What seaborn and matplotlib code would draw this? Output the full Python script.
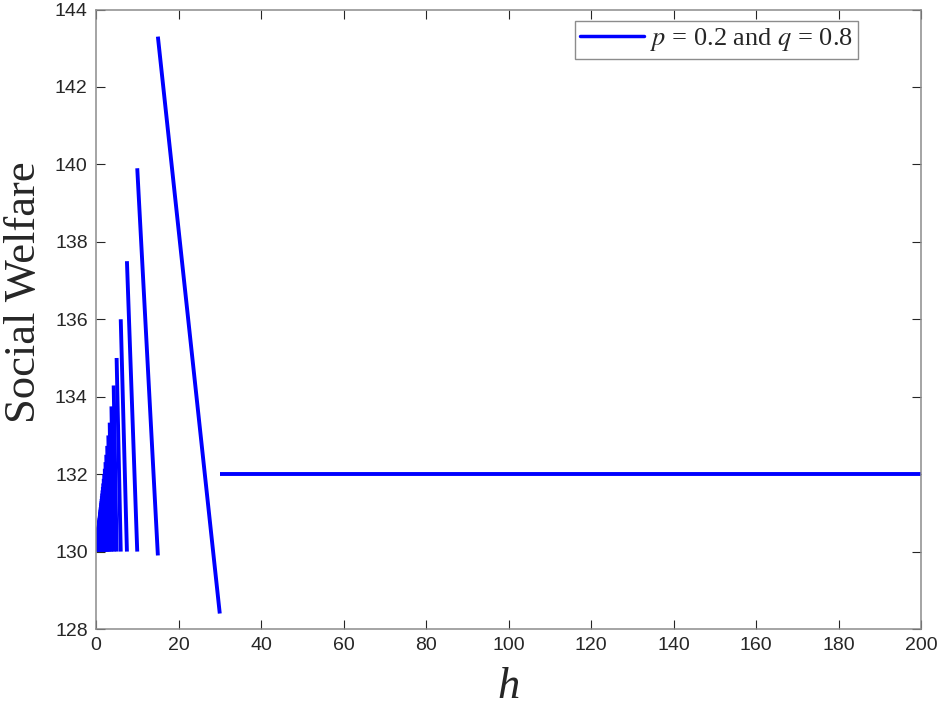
import numpy as np
import pandas as pd
import matplotlib
matplotlib.use("Agg")
import matplotlib.pyplot as plt
import seaborn as sns
from matplotlib.lines import Line2D

# segment ends (h), one segment per jump
seg_left = [30, 15, 10, 7.5, 6, 5, 4.29, 3.75, 3.33, 3.0, 2.73, 2.5, 2.31, 2.14, 2.0,
            1.88, 1.76, 1.67, 1.58, 1.5, 1.43, 1.36, 1.30, 1.25, 1.2, 1.15, 1.11,
            1.07, 1.03, 1.0, 0.97, 0.94, 0.91, 0.88, 0.86, 0.83, 0.81, 0.79, 0.77,
            0.75, 0.73, 0.71, 0.70, 0.68, 0.67, 0.65, 0.64, 0.63, 0.61, 0.6]
seg_right = [200, 30, 15, 10, 7.5, 6, 5, 4.29, 3.75, 3.33, 3.0, 2.73, 2.5, 2.31, 2.14,
             2.0, 1.88, 1.76, 1.67, 1.58, 1.5, 1.43, 1.36, 1.30, 1.25, 1.2, 1.15,
             1.11, 1.07, 1.03, 1.0, 0.97, 0.94, 0.91, 0.88, 0.86, 0.83, 0.81, 0.79,
             0.77, 0.75, 0.73, 0.71, 0.70, 0.68, 0.67, 0.65, 0.64, 0.63, 0.61]
# welfare at the left end of each segment
seg_top = [132, 143.3, 139.9, 137.5, 136.0, 135.0, 134.29, 133.75, 133.33, 133.0, 132.73,
           132.5, 132.31, 132.14, 132.0, 131.88, 131.76, 131.67, 131.58, 131.5, 131.43,
           131.36, 131.30, 131.25, 131.2, 131.15, 131.11, 131.07, 131.03, 131.0, 130.97,
           130.94, 130.91, 130.88, 130.86, 130.83, 130.81, 130.79, 130.77, 130.75,
           130.73, 130.71, 130.70, 130.68, 130.67, 130.65, 130.64, 130.63, 130.61, 130.6]
# welfare at the right end of each segment
seg_bottom = [132, 128.4, 129.9] + [130.0] * 47

legend_label = r"$p$ = 0.2 and $q$ = 0.8"

rows = []
for i in range(len(seg_left)):
    rows.append({"seg": i, "h": seg_left[i], "w": seg_top[i]})
    rows.append({"seg": i, "h": seg_right[i], "w": seg_bottom[i]})
df = pd.DataFrame(rows)

sns.set_style("white")
plt.rcParams["font.family"] = ["Liberation Sans", "DejaVu Sans"]
plt.rcParams["mathtext.fontset"] = "stix"

fig = plt.figure(figsize=(9.41, 7.09), dpi=100)
ax = fig.add_axes([0.102, 0.1128, 0.877, 0.8738])

sns.lineplot(data=df, x="h", y="w", units="seg", estimator=None, sort=False,
             color="#0000ff", linewidth=2.8, ax=ax)
for ln in ax.get_lines():
    ln.set_solid_capstyle("butt")

ax.set_xlim(0, 200)
ax.set_ylim(128, 144)
ax.set_xticks(np.arange(0, 201, 20))
ax.set_yticks(np.arange(128, 145, 2))

for s in ax.spines.values():
    s.set_visible(True)
    s.set_color("#8c8c8c")
    s.set_linewidth(1.1)
ax.tick_params(direction="in", length=6.3, width=0.8, color="#262626",
               labelsize=14, labelcolor="#262626", top=True, right=True,
               bottom=True, left=True, pad=6)

ax.set_xlabel("h", fontsize=32, family=["Liberation Serif"], style="italic", labelpad=9)
ax.set_ylabel("Social Welfare", fontsize=32, family=["Liberation Serif"])
ax.yaxis.set_label_coords(-0.0624, 0.544)

handle = Line2D([], [], color="#0000ff", linewidth=2.5)
leg = ax.legend([handle], [legend_label], loc="upper right", fancybox=False,
                framealpha=1, edgecolor="#8c8c8c", handlelength=2.4,
                handletextpad=0.25, borderpad=0.2, borderaxespad=0,
                prop={"family": "Liberation Serif", "size": 19},
                bbox_to_anchor=(0.9236, 0.9814))
leg.get_frame().set_linewidth(1.0)

fig.savefig("out.png", dpi=100)
